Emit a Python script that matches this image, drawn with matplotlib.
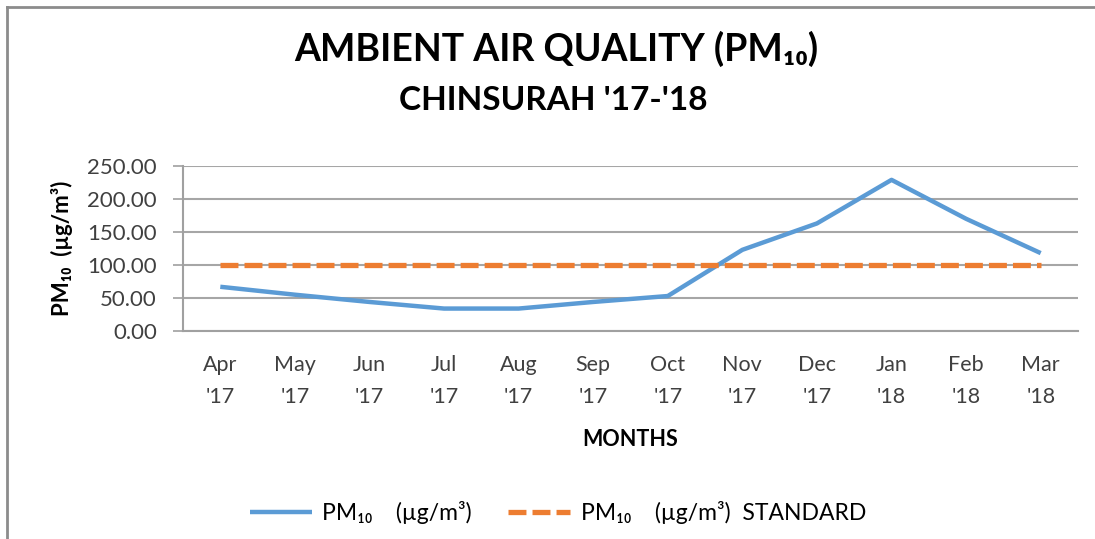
import matplotlib
matplotlib.use("Agg")
import matplotlib.pyplot as plt
from matplotlib.lines import Line2D
from matplotlib.ticker import FormatStrFormatter

# data
months = ["Apr\n'17", "May\n'17", "Jun\n'17", "Jul\n'17", "Aug\n'17", "Sep\n'17",
          "Oct\n'17", "Nov\n'17", "Dec\n'17", "Jan\n'18", "Feb\n'18", "Mar\n'18"]
pm10 = [67, 55, 44, 34, 34, 44, 53, 123, 163, 229, 170, 118]
standard = [100] * 12
y_ticks = [0, 50, 100, 150, 200, 250]

plt.rcParams["font.family"] = ["Lato", "DejaVu Sans"]

fig = plt.figure(figsize=(10.95, 5.39), dpi=100)
ax = fig.add_axes([183 / 1095, 1 - 331 / 539, (1078 - 183) / 1095, (331 - 166) / 539])

x = range(len(months))
ax.plot(x, pm10, color="#5B9BD5", lw=3.2, solid_capstyle="butt",
        label="PM₁₀    (µg/m³)", zorder=3)
ax.plot(x, standard, color="#ED7D31", lw=3.8, dashes=(3.4, 1.15),
        label="PM₁₀    (µg/m³)  STANDARD", zorder=3)

ax.set_xlim(-0.5, len(months) - 0.5)
ax.set_ylim(0, 250)
ax.set_yticks(y_ticks)
ax.yaxis.set_major_formatter(FormatStrFormatter("%.2f"))
ax.set_xticks(list(x))
ax.set_xticklabels(months, fontsize=15.5, color="#404040", linespacing=1.75)
ax.tick_params(axis="x", length=0, pad=17)
ax.tick_params(axis="y", labelsize=16, labelcolor="#404040", length=7.2,
               color="#A0A0A0", width=1.2, pad=11.5)
ax.grid(axis="y", color="#A6A6A6", lw=1.5)
ax.set_axisbelow(True)
for s in ["top", "right"]:
    ax.spines[s].set_visible(False)
for s in ["left", "bottom"]:
    ax.spines[s].set_color("#A0A0A0")
    ax.spines[s].set_linewidth(1.5)

ax.set_ylabel("PM₁₀  (µg/m³)", fontsize=16, fontweight="bold")
ax.yaxis.set_label_coords(-0.123, 0.5)
ax.set_xlabel("MONTHS", fontsize=15.5, fontweight="bold")
ax.xaxis.set_label_coords(0.5, -0.595)

fig.text(556 / 1095, 1 - 49 / 539, "AMBIENT AIR QUALITY (PM₁₀)", ha="center", va="center",
         fontsize=27, fontweight="bold")
fig.text(553 / 1095, 1 - 100 / 539, "CHINSURAH '17-'18", ha="center", va="center",
         fontsize=24, fontweight="bold")

fig.legend(loc="center", bbox_to_anchor=(558 / 1095, 1 - 513 / 539), ncol=2, frameon=False,
           fontsize=16.5, handlelength=2.7, handletextpad=0.45, columnspacing=1.6)

# partial chart border on the left and top
fig.add_artist(Line2D([7 / 1095, 7 / 1095], [0, 1 - 7 / 539], color="#8C8C8C", lw=2))
fig.add_artist(Line2D([7 / 1095, 1], [1 - 7 / 539, 1 - 7 / 539], color="#8C8C8C", lw=2))

fig.savefig("out.png", dpi=100)
